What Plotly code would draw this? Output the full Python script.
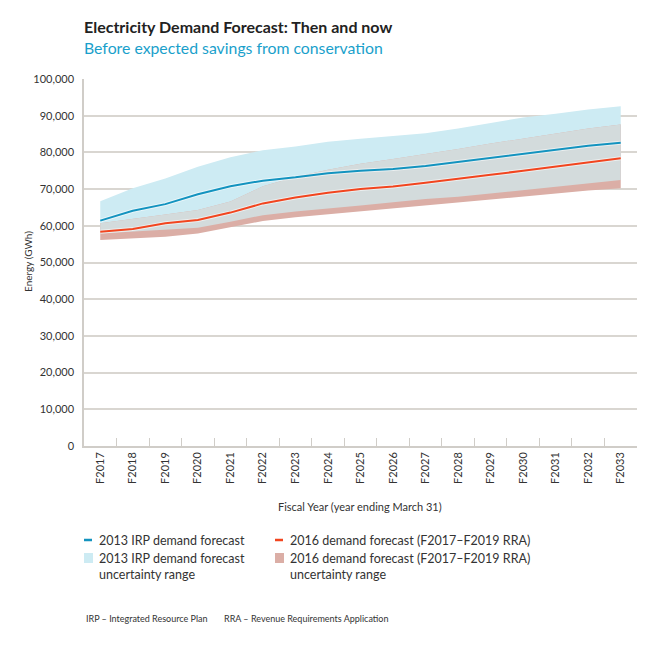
import plotly.graph_objects as go

years = ["F2017", "F2018", "F2019", "F2020", "F2021", "F2022", "F2023", "F2024", "F2025",
         "F2026", "F2027", "F2028", "F2029", "F2030", "F2031", "F2032", "F2033"]

irp_2013 = [61400, 64100, 65900, 68600, 70800, 72300, 73200, 74300, 75000,
            75500, 76300, 77400, 78500, 79700, 80800, 81800, 82600]
irp_2013_upper = [66700, 70200, 72900, 76100, 78700, 80600, 81600, 82900, 83700,
                  84400, 85200, 86500, 88000, 89500, 90500, 91700, 92600]
irp_2013_lower = [57900, 58400, 58900, 59500, 61100, 62900, 63900, 64600, 65500,
                  66400, 67300, 67900, 68800, 69700, 70600, 71600, 72500]

fc_2016 = [58400, 59100, 60700, 61600, 63600, 66100, 67700, 69000, 70000,
           70700, 71700, 72900, 73900, 75000, 76200, 77400, 78400]
fc_2016_upper = [60700, 62000, 63100, 64300, 66600, 70800, 73300, 75300, 76900,
                 78200, 79500, 80900, 82400, 83800, 85200, 86500, 87600]
fc_2016_lower = [56100, 56500, 57000, 57900, 59500, 61300, 62300, 63100, 63900,
                 64600, 65400, 66400, 67200, 68000, 68800, 69600, 70200]

y_ticks = [0, 10000, 20000, 30000, 40000, 50000, 60000, 70000, 80000, 90000, 100000]

BLUE = "#1393bf"
RED = "#f2451f"
BLUE_FILL = "#cdebf3"
RED_FILL = "#dbaea6"
OVERLAP_FILL = "#d3dbdc"
FONT = "Lato"

OFF = 8  # page body margin
W, H = 660 - OFF, 648 - OFF
# target plot area on screen: x 84..637, y 79..446
SL, SR, ST, SB = 84, 637, 79, 446
L, T = SL - OFF, ST - OFF
R, B = W - (SR - OFF), H - (SB - OFF)
PW, PH = SR - SL, SB - ST


def px(x):
    return (x - SL) / PW


def py(y):
    return (SB - y) / PH


fig = go.Figure()


def band(lower, upper, color):
    fig.add_trace(go.Scatter(x=years, y=lower, mode="lines", line=dict(width=0, color=color),
                             hoverinfo="skip", showlegend=False))
    fig.add_trace(go.Scatter(x=years, y=upper, mode="lines", line=dict(width=0, color=color),
                             fill="tonexty", fillcolor=color, hoverinfo="skip", showlegend=False))


band(irp_2013_lower, irp_2013_upper, BLUE_FILL)
band(fc_2016_lower, fc_2016_upper, RED_FILL)
band(irp_2013_lower, fc_2016_upper, OVERLAP_FILL)

for vals, col, name in [(irp_2013, BLUE, "2013 IRP demand forecast"),
                        (fc_2016, RED, "2016 demand forecast (F2017–F2019 RRA)")]:
    fig.add_trace(go.Scatter(x=years, y=vals, mode="lines",
                             line=dict(width=4, color="rgba(255,255,255,0.55)"),
                             hoverinfo="skip", showlegend=False))
    fig.add_trace(go.Scatter(x=years, y=vals, mode="lines", name=name,
                             line=dict(width=2, color=col), showlegend=False))

fig.update_layout(
    width=W, height=H,
    margin=dict(l=L, r=R, t=T, b=B, autoexpand=False),
    paper_bgcolor="white", plot_bgcolor="white",
    font=dict(family=FONT, size=11, color="#333333"),
    showlegend=False,
    xaxis=dict(type="category", range=[-0.5, len(years) - 0.5], tickangle=-90,
               ticks="inside", ticklen=8, tickcolor="#d0cdc8", tickwidth=1,
               tickson="boundaries", showgrid=False, showline=True,
               linecolor="#d0cdc8", linewidth=1.5, zeroline=False, automargin=False,
               tickfont=dict(size=11, color="#333333")),
    yaxis=dict(range=[0, 100000], tickvals=y_ticks, tickformat=",", showgrid=True,
               gridcolor="#d9d6d1", gridwidth=1.5, showline=True, linecolor="#d0cdc8",
               linewidth=1.5, zeroline=False, ticks="", ticklabelstandoff=6, automargin=False,
               tickfont=dict(size=11, color="#333333")),
)

ann = []


def note(text, x, y, xanchor="left", yanchor="middle", size=11, color="#333333", **kw):
    ann.append(dict(text=text, x=px(x), y=py(y), xref="paper", yref="paper",
                    xanchor=xanchor, yanchor=yanchor, showarrow=False, align="left",
                    font=dict(size=size, color=color, family=FONT, **kw.pop("fontkw", {})), **kw))


note("Electricity Demand Forecast: Then and now", 83, 36.5, yanchor="bottom", size=16,
     color="#222222", borderpad=0, fontkw=dict(weight="bold"))
note("Before expected savings from conservation", 83, 36.5, yanchor="top", size=15.8,
     color="#1a9fcb", borderpad=0)
note("Energy (GWh)", 28, 262, xanchor="center", size=10, textangle=-90)
note("Fiscal Year (year ending March 31)", 360, 507, xanchor="center", size=11)

legend_items = [
    (84, 540, "line", BLUE, "2013 IRP demand forecast"),
    (275, 540, "line", RED, "2016 demand forecast (F2017–F2019 RRA)"),
    (84, 558, "box", BLUE_FILL, "2013 IRP demand forecast<br>uncertainty range"),
    (275, 558, "box", RED_FILL, "2016 demand forecast (F2017–F2019 RRA)<br>uncertainty range"),
]
shapes = []
for x0, y0, kind, col, label in legend_items:
    if kind == "line":
        shapes.append(dict(type="line", xref="paper", yref="paper", x0=px(x0), x1=px(x0 + 8),
                           y0=py(y0), y1=py(y0), line=dict(color=col, width=2.5)))
    else:
        shapes.append(dict(type="rect", xref="paper", yref="paper", x0=px(x0), x1=px(x0 + 9),
                           y0=py(y0 - 5), y1=py(y0 + 5), line=dict(width=0), fillcolor=col))
    note(label, x0 + 13, y0 - 9, yanchor="top", size=12.5)

note("IRP – Integrated Resource Plan", 84, 618, size=9)
note("RRA – Revenue Requirements Application", 222, 618, size=9)

fig.update_layout(annotations=ann, shapes=shapes)
fig.write_html("out.html")
